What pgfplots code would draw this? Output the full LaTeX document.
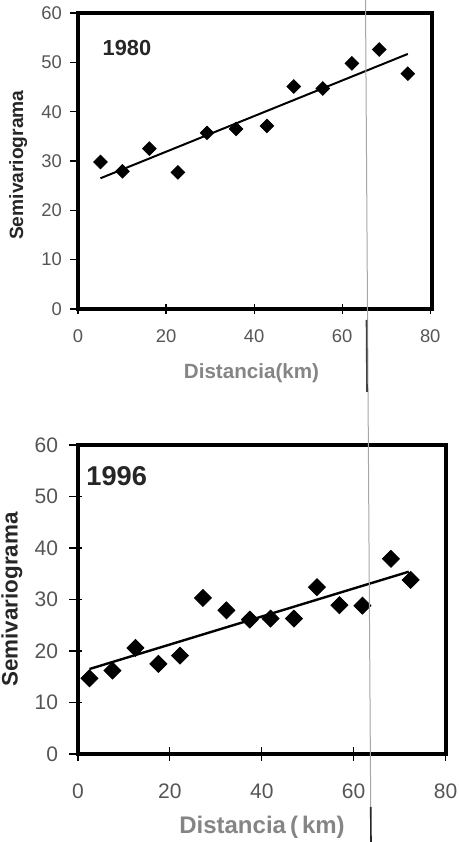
\documentclass[border=0pt]{standalone}
\usepackage{fontspec}
\setmainfont{Liberation Sans}
\usepackage{pgfplots}
\pgfplotsset{compat=1.18}
\definecolor{ticklab}{HTML}{555555}
\definecolor{xlab}{HTML}{858585}
\definecolor{ylab}{HTML}{262626}

\pgfplotsset{semiv/.style={
    scale only axis,
    xmin=0, ymin=0, ymax=60,
    xtick={0,20,40,60,80}, ytick={0,10,...,60},
    xtick pos=bottom, ytick pos=left,
    tick align=outside,
    tick style={black, line width=0.6pt},
    /pgf/number format/assume math mode=true,
    tick label style={text=ticklab},
    axis line style={line width=1.6pt},
    clip=false,
}}

\begin{document}
\begin{tikzpicture}
\useasboundingbox (0,0) rectangle (229.5pt,421pt);

% 1980
\begin{axis}[semiv,
    at={(39pt,266.5pt)}, anchor=south west,
    width=177pt, height=148pt, xmax=80.4,
    major tick length=5pt,
    x tick style={yshift=2.5pt},
    y tick style={xshift=1.2pt},
    tick label style={font=\fontsize{9.2}{10}\selectfont},
    yticklabel style={xshift=0.5pt},
    xticklabel style={yshift=-2pt},
    xlabel={Distancia(km)},
    ylabel={Semivariograma},
    xlabel style={at={(axis description cs:0.49,-0.216)}, anchor=center,
        font=\fontsize{10.3}{12}\selectfont\bfseries, text=xlab},
    ylabel style={at={(axis description cs:-0.169,0.486)}, anchor=center,
        font=\fontsize{9.6}{11}\selectfont\bfseries, text=ylab},
]
\addplot[only marks, mark=square*, mark size=2.4pt, mark options={rotate=45, fill=black}]
coordinates {
  (5.1,29.8) (10.1,27.9) (16.2,32.5) (22.7,27.7) (29.3,35.7) (35.9,36.5)
  (42.9,37.1) (49.0,45.1) (55.6,44.7) (62.2,49.8) (68.4,52.6) (74.9,47.7)
};
\addplot[black, line width=1pt] coordinates {(5.1,26.5) (74.9,51.7)};
\node[anchor=west, font=\fontsize{10.9}{12}\selectfont\bfseries, text=ylab]
  at (axis cs:4.0,52.9) {1980};
\end{axis}

% 1996
\begin{axis}[semiv,
    at={(39pt,44pt)}, anchor=south west,
    width=184pt, height=154.5pt, xmax=80.1,
    axis line style={line width=2pt},
    major tick length=6.5pt,
    x tick style={yshift=3.25pt},
    y tick style={xshift=2pt},
    tick label style={font=\fontsize{10.5}{12}\selectfont},
    yticklabel style={xshift=0pt},
    xticklabel style={yshift=-4.7pt},
    xlabel={Distancia\,(\,km)},
    ylabel={Semivariograma},
    xlabel style={at={(axis description cs:0.5,-0.236)}, anchor=center,
        font=\fontsize{12}{14}\selectfont\bfseries, text=xlab},
    ylabel style={at={(axis description cs:-0.180,0.5)}, anchor=center,
        font=\fontsize{11.2}{13}\selectfont\bfseries, text=ylab},
]
\addplot[only marks, mark=square*, mark size=3pt, mark options={rotate=45, fill=black}]
coordinates {
  (2.5,14.7) (7.5,16.2) (12.5,20.6) (17.5,17.5) (22.2,19.1) (27.2,30.3)
  (32.3,27.9) (37.4,26.1) (41.9,26.3) (47.0,26.3) (52.0,32.4) (56.9,28.9)
  (61.9,28.8) (68.1,37.9) (72.4,33.8)
};
\addplot[black, line width=1.2pt] coordinates {(2.5,16.5) (72.0,35.4)};
\node[anchor=west, font=\fontsize{13.6}{15}\selectfont\bfseries, text=ylab]
  at (axis cs:0.3,54.0) {1996};
\end{axis}

% scan artefacts (page fold line)
\draw[gray!70, line width=0.5pt] (182.75pt,421pt) -- (185.35pt,17.5pt);
\draw[black!75, line width=0.8pt] (183.25pt,261pt) -- (183.5pt,225pt);
\draw[black!85, line width=0.8pt] (185.35pt,17.5pt) -- (185.5pt,0pt);
\end{tikzpicture}
\end{document}
